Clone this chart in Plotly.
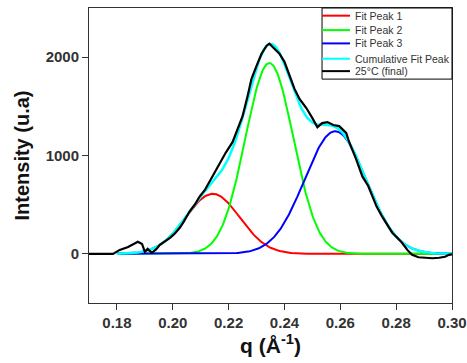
import numpy as np
import plotly.graph_objects as go

q_exp = [0.170, 0.1786, 0.181, 0.184, 0.1875, 0.189, 0.190, 0.191, 0.1925, 0.194,
         0.1954, 0.197, 0.199, 0.2005, 0.2025, 0.204, 0.206, 0.208, 0.2096, 0.2115,
         0.2132, 0.215, 0.217, 0.219, 0.2214, 0.2232, 0.225, 0.2268, 0.2282, 0.230,
         0.2318, 0.2336, 0.2346, 0.2364, 0.2382, 0.240, 0.2418, 0.2436, 0.2454, 0.2479,
         0.250, 0.2518, 0.2535, 0.2554, 0.2575, 0.2596, 0.2621, 0.2632, 0.2657, 0.2679,
         0.270, 0.2714, 0.273, 0.275, 0.277, 0.2786, 0.2805, 0.2821, 0.284, 0.2857,
         0.288, 0.2907, 0.293, 0.2954, 0.2975, 0.2989, 0.300]
i_exp = [0, 0, 40, 70, 123, 100, 20, 50, 10, 45,
         92, 120, 163, 200, 265, 330, 430, 505, 583, 650,
         736, 820, 930, 1030, 1135, 1268, 1400, 1605, 1780, 1912,
         2035, 2117, 2137, 2086, 2035, 1953, 1810, 1677, 1575, 1480,
         1380, 1288, 1330, 1340, 1310, 1299, 1230, 1135, 961, 787,
         690, 583, 480, 378, 290, 215, 160, 112, 40, -10,
         -35, -40, -45, -40, -30, -10, -5]

# Gaussian fit peak parameters
peak_names = ["Fit Peak 1", "Fit Peak 2", "Fit Peak 3"]
peak_centers = [0.2143, 0.2346, 0.2582]
peak_heights = [610, 1940, 1247]
peak_sigmas = [0.0097, 0.0086, 0.0110]
peak_colors = ["#FF0000", "#00FF00", "#0000FF"]

x_ticks = [0.18, 0.20, 0.22, 0.24, 0.26, 0.28, 0.30]
x_ticklabels = ["0.18", "0.20", "0.22", "0.24", "0.26", "0.28", "0.30"]
y_ticks = [0, 1000, 2000]
y_ticklabels = ["0", "1000", "2000"]

q_fit = np.linspace(0.180, 0.300, 400)
peaks = [h * np.exp(-(q_fit - c) ** 2 / (2 * s ** 2))
         for c, h, s in zip(peak_centers, peak_heights, peak_sigmas)]
cumulative = np.sum(peaks, axis=0)

fig = go.Figure()
for name, y, col in zip(peak_names, peaks, peak_colors):
    fig.add_trace(go.Scatter(x=q_fit, y=y, mode="lines", name=name,
                             line=dict(color=col, width=2)))
fig.add_trace(go.Scatter(x=q_fit, y=cumulative, mode="lines", name="Cumulative Fit Peak",
                         line=dict(color="#00FFFF", width=2.5)))
fig.add_trace(go.Scatter(x=q_exp, y=i_exp, mode="lines", name="25°C (final)",
                         line=dict(color="#000000", width=2.2)))

# Compact legend box (drawn as layout decorations, from the trace names/colours)
leg_x0, leg_x1, leg_y0, leg_y1 = 0.642, 1.0, 0.759, 1.0
leg_rows = [0.974, 0.925, 0.880, 0.828, 0.786]
shapes = [dict(type="rect", xref="paper", yref="paper", x0=leg_x0, x1=leg_x1,
               y0=leg_y0, y1=leg_y1, line=dict(color="#000000", width=1),
               fillcolor="white", layer="above")]
annotations = []
for tr, yy in zip(fig.data, leg_rows):
    shapes.append(dict(type="line", xref="paper", yref="paper", x0=leg_x0, x1=0.719,
                       y0=yy, y1=yy, line=dict(color=tr.line.color, width=2),
                       layer="above"))
    annotations.append(dict(xref="paper", yref="paper", x=0.726, y=yy, text=tr.name,
                            showarrow=False, xanchor="left", yanchor="middle",
                            font=dict(size=10.5, color="#333333")))

axis_common = dict(showline=True, linecolor="#333333", linewidth=1, mirror=True,
                   ticks="outside", ticklen=6, tickcolor="#333333", showgrid=False,
                   zeroline=False, ticklabeloverflow="allow", automargin=False,
                   tickfont=dict(family="Liberation Sans, Arial", size=15, color="#333333"))

fig.update_layout(
    width=467, height=363,
    margin=dict(l=89, r=15, t=8, b=60, autoexpand=False),
    paper_bgcolor="white", plot_bgcolor="white",
    font=dict(family="Liberation Sans, Arial"),
    xaxis=dict(range=[0.17, 0.30], tickvals=x_ticks,
               ticktext=["<b>%s</b>" % t for t in x_ticklabels],
               title=dict(text="<b>q (Å<sup>-1</sup>)</b>", standoff=4,
                          font=dict(size=21, color="#111111")),
               **axis_common),
    yaxis=dict(range=[-500, 2500], tickvals=y_ticks,
               ticktext=["<b>%s</b>" % t for t in y_ticklabels],
               title=dict(text="<b>Intensity (u.a)</b>", standoff=10,
                          font=dict(size=20, color="#111111")),
               **axis_common),
    shapes=shapes,
    annotations=annotations,
    showlegend=False,
)

fig.write_html("out.html", config={"displayModeBar": False},
               post_script="document.body.style.margin='0';")
